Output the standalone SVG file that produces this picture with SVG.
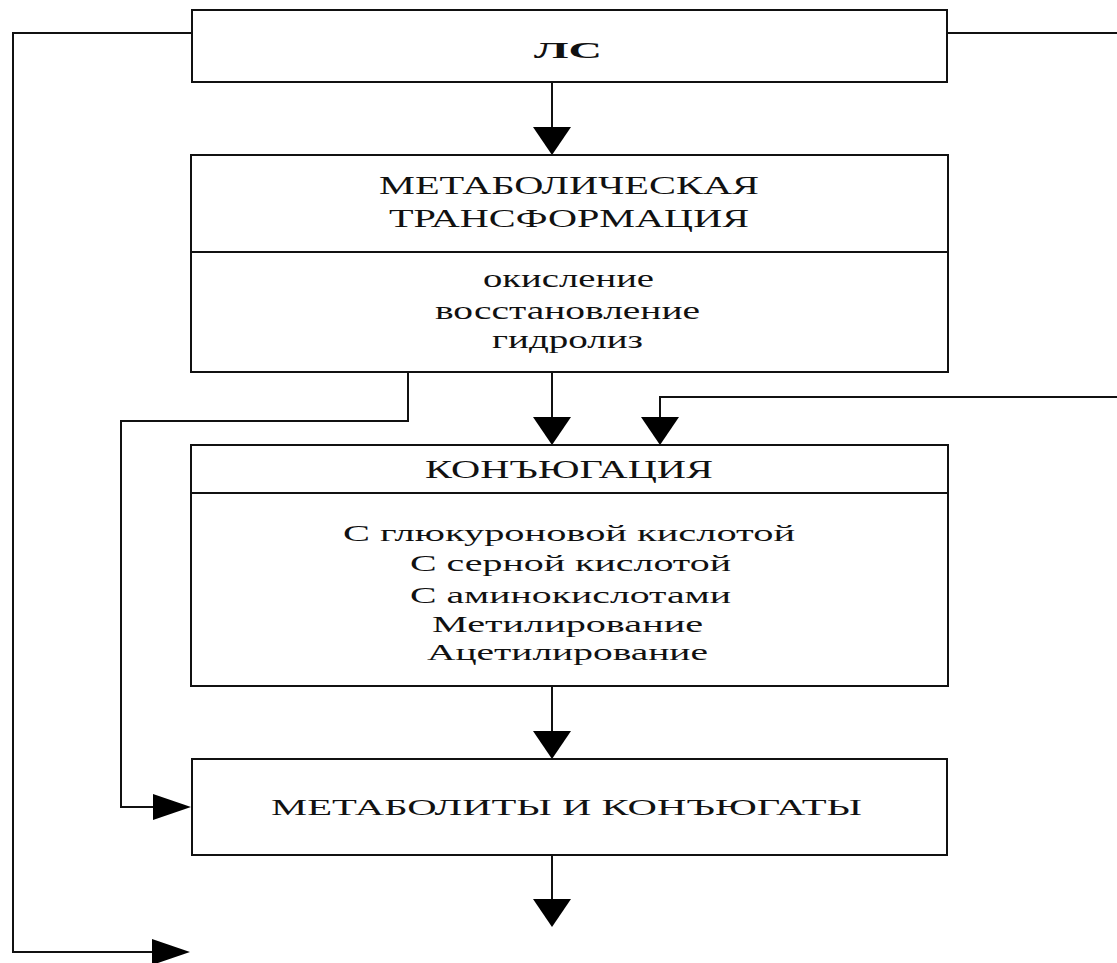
<svg xmlns="http://www.w3.org/2000/svg" width="1117" height="963" viewBox="0 0 1117 963">
<style>
.box{fill:#fff;stroke:#111;stroke-width:2}
.div{stroke:#111;stroke-width:2}
.ln{fill:none;stroke:#111;stroke-width:2}
.head{fill:#000}
.t{font-family:"Liberation Serif","Times New Roman",serif;font-size:24px;fill:#111}
.h{font-size:26px}
.b{font-weight:bold}
</style>
<rect width="1117" height="963" fill="#fff"/>
<g id="connectors">
<polyline class="ln" points="947,33 1117,33"/>
<polyline class="ln" points="192,33 13,33 13,952 160,952"/>
<polygon class="head" points="152,939 152,965 190,952"/>
<line class="ln" x1="552" y1="82" x2="552" y2="130"/>
<polygon class="head" points="533,127 571,127 552,155"/>
<line class="ln" x1="552" y1="372" x2="552" y2="420"/>
<polygon class="head" points="533,417 571,417 552,445"/>
<polyline class="ln" points="1117,397 660,397 660,420"/>
<polygon class="head" points="641,417 679,417 660,445"/>
<polyline class="ln" points="408,372 408,421 121,421 121,807 160,807"/>
<polygon class="head" points="153,794 153,820 191,807"/>
<line class="ln" x1="552" y1="686" x2="552" y2="734"/>
<polygon class="head" points="533,731 571,731 552,759"/>
<line class="ln" x1="552" y1="855" x2="552" y2="902"/>
<polygon class="head" points="533,899 571,899 552,927"/>
</g>
<g id="node-ls">
<rect class="box" x="192" y="10" width="755" height="72"/>
<text class="t b" x="534" y="58" font-size="30" textLength="68" lengthAdjust="spacingAndGlyphs">ЛС</text>
</g>
<g id="node-metabolic">
<rect class="box" x="191" y="155" width="757" height="217"/>
<line class="div" x1="191" y1="252" x2="948" y2="252"/>
<text class="t h" x="379" y="194" textLength="380" lengthAdjust="spacingAndGlyphs">МЕТАБОЛИЧЕСКАЯ</text>
<text class="t h" x="389" y="227" textLength="360" lengthAdjust="spacingAndGlyphs">ТРАНСФОРМАЦИЯ</text>
<text class="t h" x="483" y="287" textLength="171" lengthAdjust="spacingAndGlyphs">окисление</text>
<text class="t h" x="435" y="319" textLength="265" lengthAdjust="spacingAndGlyphs">восстановление</text>
<text class="t h" x="492" y="348" textLength="151" lengthAdjust="spacingAndGlyphs">гидролиз</text>
</g>
<g id="node-conjugation">
<rect class="box" x="191" y="445" width="757" height="241"/>
<line class="div" x1="191" y1="493" x2="948" y2="493"/>
<text class="t h" x="425" y="478" textLength="288" lengthAdjust="spacingAndGlyphs">КОНЪЮГАЦИЯ</text>
<text class="t" x="343" y="541" textLength="452" lengthAdjust="spacingAndGlyphs">С глюкуроновой кислотой</text>
<text class="t" x="410" y="571" textLength="321" lengthAdjust="spacingAndGlyphs">С серной кислотой</text>
<text class="t" x="410" y="603" textLength="321" lengthAdjust="spacingAndGlyphs">С аминокислотами</text>
<text class="t" x="432" y="632" textLength="271" lengthAdjust="spacingAndGlyphs">Метилирование</text>
<text class="t" x="427" y="660" textLength="281" lengthAdjust="spacingAndGlyphs">Ацетилирование</text>
</g>
<g id="node-metabolites">
<rect class="box" x="192" y="759" width="755" height="96"/>
<text class="t" x="271" y="815" font-size="27" textLength="591" lengthAdjust="spacingAndGlyphs">МЕТАБОЛИТЫ И КОНЪЮГАТЫ</text>
</g>
</svg>
